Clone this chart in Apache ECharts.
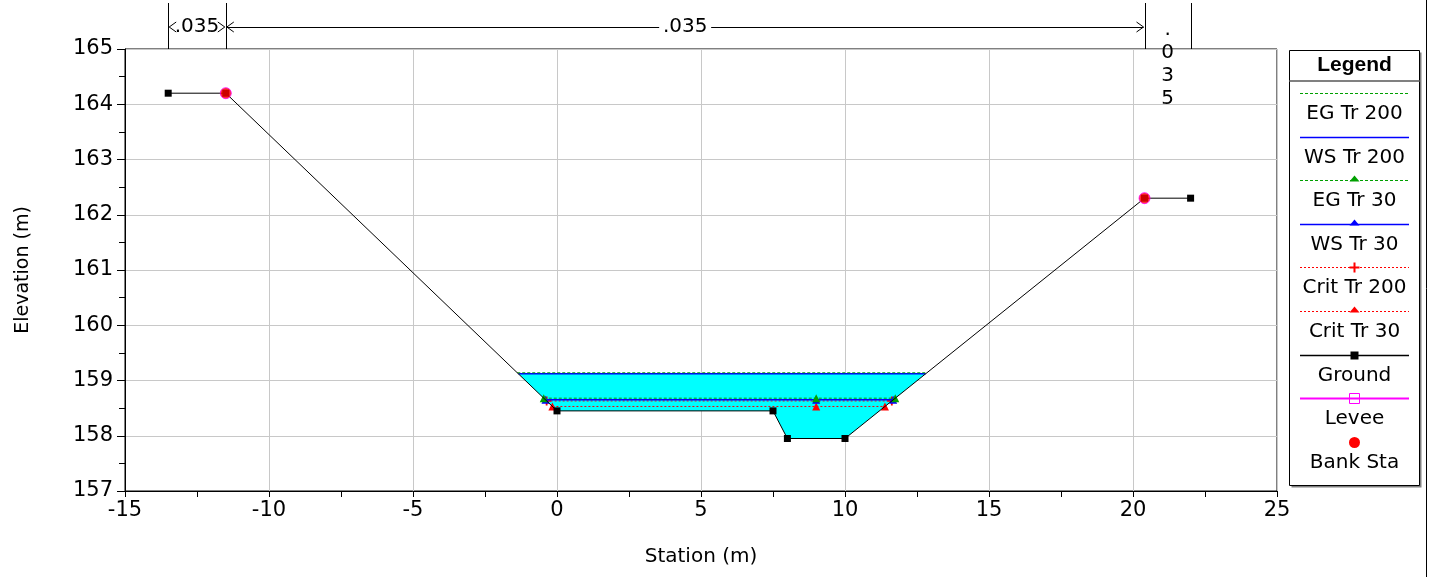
<!DOCTYPE html>
<html><head><meta charset="utf-8">
<script src="https://cdn.jsdelivr.net/npm/echarts@6/dist/echarts.min.js"></script>
<style>html,body{margin:0;padding:0;background:#fff}#c{width:1430px;height:577px}</style>
</head><body><div id="c"></div>
<script>
// ---------- data ----------
const groundStation = [-13.5, -11.5, 0, 7.5, 8, 10, 20.4, 22];
const groundElev    = [164.2, 164.2, 158.45, 158.45, 157.95, 157.95, 162.3, 162.3];
const bankStation   = [-11.5, 20.4];
const bankElev      = [164.2, 162.3];
const profileNames  = ['EG Tr 200', 'WS Tr 200', 'EG Tr 30', 'WS Tr 30', 'Crit Tr 200', 'Crit Tr 30'];
const profileElev   = [159.14, 159.12, 158.68, 158.65, 158.63, 158.53];
const markerStation = 9;            // interior marker station for Tr 30 profiles
const nBreakStation = [-13.5, -11.5, 20.4, 22];
const nValues       = ['.035', '.035', '.035'];
const xRange = {min: -15, max: 25, interval: 5};
const yRange = {min: 157, max: 165, interval: 1};

const FONT = '"DejaVu Sans", "Liberation Sans", sans-serif';
const FONT_B = '"Liberation Sans", Arial, sans-serif';
const ground = groundStation.map((x, i) => [x, groundElev[i]]);

function crossings(elev) {
  let xl = null, xr = null;
  for (let i = 0; i < ground.length - 1; i++) {
    const [x0, y0] = ground[i], [x1, y1] = ground[i + 1];
    if (xl === null && y0 >= elev && y1 < elev) xl = x0 + (elev - y0) / (y1 - y0) * (x1 - x0);
    if (y0 < elev && y1 >= elev) xr = x0 + (elev - y0) / (y1 - y0) * (x1 - x0);
  }
  return [xl, xr];
}
function wsLine(elev, withMid) {
  const [xl, xr] = crossings(elev);
  return withMid ? [[xl, elev], [markerStation, elev], [xr, elev]] : [[xl, elev], [xr, elev]];
}
const wsMax = profileElev[1];
const [wl, wr] = crossings(wsMax);
const waterPoly = [[wl, wsMax]].concat(ground.filter(p => p[0] > wl && p[0] < wr)).concat([[wr, wsMax]]);

const PLUS = 'path://M-1,-5H1V-1H5V1H1V5H-1V1H-5V-1H-1Z';
const GREEN = '#00a000', BLUE = '#0000ff', RED = '#ff0000';

const series = [
  { type: 'custom', coordinateSystem: 'cartesian2d', z: 1, silent: true, data: [[0, 160]],
    renderItem: (p, api) => ({ type: 'polygon', shape: { points: waterPoly.map(q => api.coord(q)) },
      style: { fill: '#00ffff', stroke: null } }) },
  { name: profileNames[5], type: 'line', z: 2, data: wsLine(profileElev[5], true), symbol: 'triangle', symbolSize: 8,
    lineStyle: { color: RED, width: 1, type: [2, 2] }, itemStyle: { color: RED } },
  { name: profileNames[4], type: 'line', z: 3, data: wsLine(profileElev[4], false), symbol: PLUS, symbolSize: 9,
    lineStyle: { color: RED, width: 1, type: [2, 2] }, itemStyle: { color: RED } },
  { name: profileNames[3], type: 'line', z: 4, data: wsLine(profileElev[3], true), symbol: 'triangle', symbolSize: 8,
    lineStyle: { color: BLUE, width: 1.5 }, itemStyle: { color: BLUE } },
  { name: profileNames[2], type: 'line', z: 5, data: wsLine(profileElev[2], true), symbol: 'triangle', symbolSize: 8,
    lineStyle: { color: GREEN, width: 1, type: [3, 2] }, itemStyle: { color: GREEN } },
  { name: profileNames[1], type: 'line', z: 4, data: wsLine(profileElev[1], false), showSymbol: false, symbol: 'none',
    lineStyle: { color: BLUE, width: 1.5 } },
  { name: profileNames[0], type: 'line', z: 5, data: wsLine(profileElev[0], false), showSymbol: false, symbol: 'none',
    lineStyle: { color: GREEN, width: 1, type: [3, 2] } },
  { name: 'Ground', type: 'line', z: 6, data: ground, symbol: 'rect', symbolSize: 7,
    lineStyle: { color: '#000', width: 1 }, itemStyle: { color: '#000' } },
  { name: 'Bank Sta', type: 'scatter', z: 7, data: bankStation.map((x, i) => [x, bankElev[i]]), symbol: 'circle', symbolSize: 11,
    itemStyle: { color: RED, borderColor: '#ff00ff', borderWidth: 1 } },
  { type: 'custom', coordinateSystem: 'cartesian2d', z: 8, silent: true, clip: false, data: [[0, 165]],
    renderItem: (p, api) => {
      const top = api.coord([0, yRange.max])[1];
      const ya = top - 22, yTop = top - 46;
      const ch = [];
      const xs = nBreakStation.map(s => api.coord([s, yRange.max])[0]);
      xs.forEach(x => ch.push({ type: 'line', shape: { x1: Math.round(x) + 0.5, y1: yTop, x2: Math.round(x) + 0.5, y2: top },
        style: { stroke: '#000', lineWidth: 1 } }));
      const tw = 45;
      for (let i = 0; i < nValues.length; i++) {
        const a = xs[i], b = xs[i + 1], w = b - a, c = (a + b) / 2;
        if (w >= tw + 10) {
          ch.push({ type: 'polyline', shape: { points: [[a + 8, ya - 5], [a + 1, ya], [a + 8, ya + 5]] }, style: { stroke: '#000', lineWidth: 1, fill: null } });
          ch.push({ type: 'polyline', shape: { points: [[b - 8, ya - 5], [b - 1, ya], [b - 8, ya + 5]] }, style: { stroke: '#000', lineWidth: 1, fill: null } });
          if (w > tw + 40) {
            ch.push({ type: 'line', shape: { x1: a + 1, y1: ya + 0.5, x2: c - 26, y2: ya + 0.5 }, style: { stroke: '#000', lineWidth: 1 } });
            ch.push({ type: 'line', shape: { x1: c + 26, y1: ya + 0.5, x2: b - 1, y2: ya + 0.5 }, style: { stroke: '#000', lineWidth: 1 } });
          }
          ch.push({ type: 'text', style: { text: nValues[i], x: c, y: ya, align: 'center', verticalAlign: 'middle',
            font: '20px ' + FONT, fill: '#000' } });
        } else {
          ch.push({ type: 'text', style: { text: nValues[i].split('').join('\n'), x: c, y: yTop + 15, align: 'center', verticalAlign: 'top',
            font: '20px ' + FONT, lineHeight: 23, fill: '#000' } });
        }
      }
      return { type: 'group', children: ch };
    } }
];

// ---------- legend (drawn as graphics) ----------
const legendItems = [
  { name: 'EG Tr 200', stroke: GREEN, dash: [3, 2], lw: 1 },
  { name: 'WS Tr 200', stroke: BLUE, lw: 1.5 },
  { name: 'EG Tr 30', stroke: GREEN, dash: [3, 2], lw: 1, mark: 'tri', color: GREEN },
  { name: 'WS Tr 30', stroke: BLUE, lw: 1.5, mark: 'tri', color: BLUE },
  { name: 'Crit Tr 200', stroke: RED, dash: [2, 2], lw: 1, mark: 'plus', color: RED },
  { name: 'Crit Tr 30', stroke: RED, dash: [2, 2], lw: 1, mark: 'tri', color: RED },
  { name: 'Ground', stroke: '#000', lw: 1.5, mark: 'sq', color: '#000' },
  { name: 'Levee', stroke: '#ff00ff', lw: 2, mark: 'hsq', color: '#ff00ff' },
  { name: 'Bank Sta', mark: 'dot', color: RED }
];
const LX = 1289.5, LY = 50.5, LW = 130, LH = 435;
const graphic = [
  { type: 'line', shape: { x1: 1426.5, y1: 0, x2: 1426.5, y2: 577 }, style: { stroke: '#000', lineWidth: 1 } },
  { type: 'rect', shape: { x: LX + 2, y: LY + 2, width: LW, height: LH }, style: { fill: '#808080' } },
  { type: 'rect', shape: { x: LX, y: LY, width: LW, height: LH }, style: { fill: '#fff', stroke: '#000', lineWidth: 1 } },
  { type: 'line', shape: { x1: LX, y1: 81, x2: LX + LW, y2: 81 }, style: { stroke: '#808080', lineWidth: 2 } },
  { type: 'text', style: { text: 'Legend', x: LX + LW / 2, y: 65, align: 'center', verticalAlign: 'middle',
    font: 'bold 21px ' + FONT_B, fill: '#000' } }
];
const cx = 1354.5;
legendItems.forEach((it, i) => {
  const yi = Math.round(93 + i * 43.6);
  if (it.stroke) {
    if (it.dash) {
      const on = it.dash[0], step = it.dash[0] + it.dash[1];
      for (let x = 1300; x < 1409; x += step) {
        graphic.push({ type: 'rect', shape: { x: x, y: yi, width: Math.min(on, 1409 - x), height: 1 }, style: { fill: it.stroke } });
      }
    } else {
      graphic.push({ type: 'line', shape: { x1: 1300, y1: yi + 0.5, x2: 1409, y2: yi + 0.5 }, style: { stroke: it.stroke, lineWidth: it.lw } });
    }
  }
  const y = yi + 0.5;
  if (it.mark === 'tri') graphic.push({ type: 'polygon', shape: { points: [[cx, y - 5], [cx - 5, y + 1], [cx + 5, y + 1]] }, style: { fill: it.color } });
  if (it.mark === 'plus') graphic.push({ type: 'polygon', shape: { points: [[cx-1,y-5],[cx+1,y-5],[cx+1,y-1],[cx+5,y-1],[cx+5,y+1],[cx+1,y+1],[cx+1,y+5],[cx-1,y+5],[cx-1,y+1],[cx-5,y+1],[cx-5,y-1],[cx-1,y-1]] }, style: { fill: it.color } });
  if (it.mark === 'sq') graphic.push({ type: 'rect', shape: { x: cx - 4, y: y - 4, width: 8, height: 8 }, style: { fill: it.color } });
  if (it.mark === 'hsq') graphic.push({ type: 'rect', shape: { x: cx - 5, y: y - 5, width: 10, height: 10 }, style: { fill: null, stroke: it.color, lineWidth: 1 } });
  if (it.mark === 'dot') graphic.push({ type: 'circle', shape: { cx: cx, cy: y, r: 5.5 }, style: { fill: it.color } });
  graphic.push({ type: 'text', style: { text: it.name, x: cx, y: y + 20, align: 'center', verticalAlign: 'middle',
    font: '20px ' + FONT, fill: '#000' } });
});

const chart = echarts.init(document.getElementById('c'), null, { renderer: 'canvas' });
chart.setOption({
  animation: false,
  backgroundColor: '#fff',
  grid: { left: 125, right: 153, top: 49, bottom: 86, containLabel: false, outerBoundsMode: 'none',
    show: true, borderColor: '#000', borderWidth: 1, backgroundColor: 'transparent' },
  xAxis: { type: 'value', min: xRange.min, max: xRange.max, interval: xRange.interval,
    name: 'Station (m)', nameLocation: 'middle', nameGap: 56,
    nameTextStyle: { fontFamily: FONT, fontSize: 20, color: '#000' },
    axisLine: { show: true, onZero: false, lineStyle: { color: '#000', width: 1 } },
    axisTick: { show: true, length: 6, lineStyle: { color: '#000' } },
    minorTick: { show: true, splitNumber: 2, length: 6, lineStyle: { color: '#000' } },
    axisLabel: { fontFamily: FONT, fontSize: 21, color: '#000', margin: 9 },
    splitLine: { show: true, lineStyle: { color: '#c8c8c8', width: 1 } } },
  yAxis: { type: 'value', min: yRange.min, max: yRange.max, interval: yRange.interval,
    name: 'Elevation (m)', nameLocation: 'middle', nameGap: 92,
    nameTextStyle: { fontFamily: FONT, fontSize: 19, color: '#000' },
    axisLine: { show: true, onZero: false, lineStyle: { color: '#000', width: 1 } },
    axisTick: { show: true, length: 8, lineStyle: { color: '#000' } },
    minorTick: { show: true, splitNumber: 2, length: 6, lineStyle: { color: '#000' } },
    axisLabel: { fontFamily: FONT, fontSize: 21, color: '#000', margin: 12 },
    splitLine: { show: true, lineStyle: { color: '#c8c8c8', width: 1 } } },
  series: series,
  graphic: graphic
});
</script></body></html>
